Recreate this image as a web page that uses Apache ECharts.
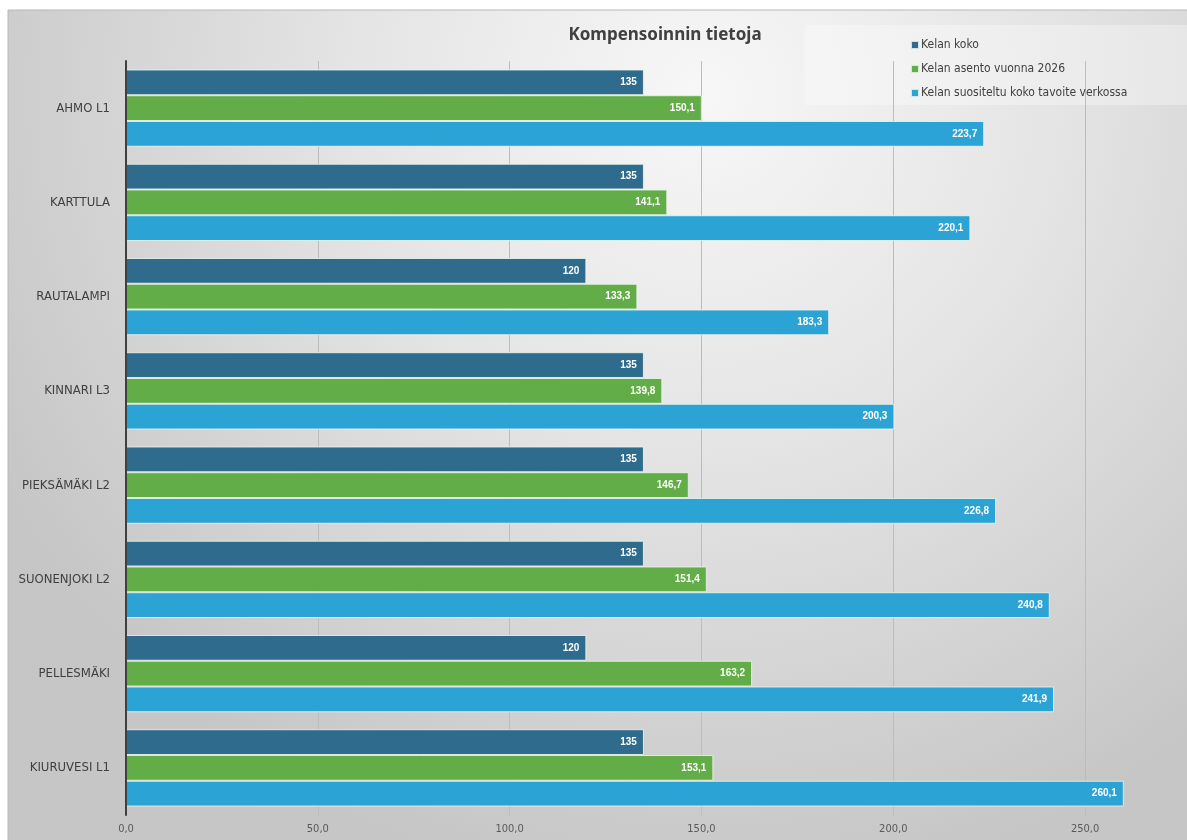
<!DOCTYPE html>
<html>
<head>
<meta charset="utf-8">
<script src="https://cdn.jsdelivr.net/npm/echarts@6/dist/echarts.min.js"></script>
<style>
html,body{margin:0;padding:0;background:#fff;}
#c{width:1187px;height:840px;}
</style>
</head>
<body>
<div id="c"></div>
<script>
var categories = ['AHMO L1','KARTTULA','RAUTALAMPI','KINNARI L3','PIEKSÄMÄKI L2','SUONENJOKI L2','PELLESMÄKI','KIURUVESI L1'];
var seriesNames = ['Kelan koko','Kelan asento vuonna 2026','Kelan suositeltu koko tavoite verkossa'];
var kelanKoko = [135,135,120,135,135,135,120,135];
var kelanAsento = [150.1,141.1,133.3,139.8,146.7,151.4,163.2,153.1];
var kelanSuositeltu = [223.7,220.1,183.3,200.3,226.8,240.8,241.9,260.1];
var colors = ['#2f6b8c','#62ad47','#2ba3d5'];
var xTicks = {min:0, max:275, interval:50};
var gridValues = [50,100,150,200,250];

var chart = echarts.init(document.getElementById('c'));
function fmt(v){ return String(v).replace('.', ','); }
function mk(name, data, color){
  return {
    name: name, type: 'bar', data: data, barGap: '0%', barCategoryGap: '18%', z: 3,
    itemStyle: {color: color, borderColor: 'rgba(235,245,235,0.85)', borderWidth: 1},
    label: {show: true, position: 'insideRight', distance: 7, color: '#fff', fontWeight: 'bold',
      fontSize: 10, fontFamily: 'Liberation Sans, Arial, sans-serif',
      formatter: function(p){ return fmt(p.value); }}
  };
}
chart.setOption({
  animation: false,
  color: colors,
  graphic: [
    {type:'rect', z:-10, silent:true, shape:{x:8,y:10,width:1200,height:840},
      style:{fill:{type:'radial', x:0.58, y:0.1, r:0.95, colorStops:[
        {offset:0,color:'#f7f7f7'},{offset:0.45,color:'#e4e4e4'},{offset:1,color:'#c6c6c6'}]},
        stroke:'#b8b8b8', lineWidth:1}},
    {type:'rect', z:-9, silent:true, shape:{x:805,y:25,width:400,height:80},
      style:{fill:'rgba(255,255,255,0.32)'}}
  ],
  title: {text: 'Kompensoinnin tietoja', left: 660, top: 22, textAlign: 'center',
    textStyle: {fontSize: 17, fontWeight: 'bold', color: '#404040', fontFamily: 'Noto Sans, sans-serif'}},
  legend: {orient: 'vertical', left: 905, top: 34, itemWidth: 8, itemHeight: 8, itemGap: 12,
    icon: 'rect', data: seriesNames,
    textStyle: {fontSize: 12, color: '#404040', fontFamily: 'Liberation Sans Narrow, DejaVu Sans Condensed, sans-serif', padding:[0,0,0,-3]}},
  grid: {left: 126, right: 6, top: 61, bottom: 25, containLabel: false},
  xAxis: {type: 'value', min: xTicks.min, max: xTicks.max, interval: xTicks.interval,
    axisLine: {show: false}, axisTick: {show: false},
    splitLine: {show: false},
    axisLabel: {color: '#595959', fontSize: 11, margin: 9, showMaxLabel: false, fontFamily: 'Liberation Sans Narrow, DejaVu Sans Condensed, sans-serif',
      formatter: function(v){ return v % 50 === 0 ? v.toFixed(1).replace('.', ',') : ''; }}},
  yAxis: {type: 'category', data: categories, inverse: true, z: 6,
    axisLine: {show: true, lineStyle: {color: '#404040', width: 2}}, axisTick: {show: false},
    axisLabel: {color: '#404040', fontSize: 13, margin: 16, fontFamily: 'Liberation Sans Narrow, DejaVu Sans Condensed, sans-serif'}},
  series: [
    {name: 'grid', type: 'line', data: [], z: 1, silent: true,
      markLine: {silent: true, z: 1, symbol: 'none', label: {show: false}, animation: false,
        lineStyle: {color: '#bcbcbc', type: 'solid', width: 1},
        data: gridValues.map(function(v){ return {xAxis: v}; })}},
    mk(seriesNames[0], kelanKoko, colors[0]),
    mk(seriesNames[1], kelanAsento, colors[1]),
    mk(seriesNames[2], kelanSuositeltu, colors[2])
  ]
});
</script>
</body>
</html>
